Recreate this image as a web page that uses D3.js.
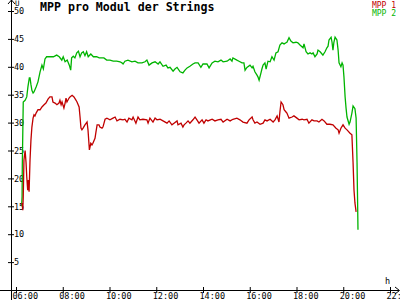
<!DOCTYPE html>
<html>
<head>
<meta charset="utf-8">
<script src="https://cdn.jsdelivr.net/npm/d3@7"></script>
<style>
  html, body { margin: 0; padding: 0; background: #fff; }
  svg { display: block; }
  text { font-family: "DejaVu Sans Mono", monospace; }
</style>
</head>
<body>
<div id="chart"></div>
<script>
// time in decimal hours, value in volts
const mpp1Time = [6.26,6.29,6.31,6.34,6.39,6.43,6.46,6.50,6.53,6.56,6.60,6.64,6.68,6.73,6.77,6.81,6.86,6.94,7.03,7.11,7.20,7.28,7.37,7.45,7.54,7.58,7.67,7.75,7.84,7.88,7.93,7.97,8.05,8.10,8.14,8.18,8.27,8.31,8.40,8.48,8.57,8.61,8.70,8.74,8.78,8.82,8.87,8.95,9.04,9.08,9.12,9.14,9.20,9.25,9.29,9.38,9.42,9.47,9.55,9.59,9.68,9.72,9.81,9.89,10.02,10.15,10.24,10.32,10.45,10.58,10.66,10.75,10.83,10.96,11.01,11.13,11.22,11.30,11.43,11.60,11.65,11.73,11.86,11.95,12.03,12.16,12.29,12.46,12.55,12.67,12.76,12.89,12.93,13.06,13.14,13.19,13.27,13.36,13.44,13.57,13.66,13.74,13.83,13.96,14.04,14.13,14.21,14.39,14.51,14.64,14.77,14.86,15.03,15.16,15.28,15.45,15.58,15.71,15.88,15.97,16.10,16.14,16.22,16.31,16.44,16.57,16.65,16.74,16.87,17.00,17.08,17.17,17.25,17.29,17.34,17.42,17.47,17.55,17.59,17.68,17.81,17.89,18.02,18.11,18.24,18.32,18.45,18.53,18.66,18.75,18.88,18.96,19.09,19.18,19.30,19.43,19.56,19.69,19.78,19.82,19.90,19.99,20.08,20.16,20.29,20.37,20.42,20.46,20.50,20.55];
const mpp1Value = [15.6,14.3,16.7,23.3,25.0,22.8,20.3,17.9,19.7,17.6,23.3,26.9,29.2,30.8,31.4,31.2,31.7,32.3,32.3,32.8,33.2,33.5,34.2,34.6,34.6,33.7,33.5,33.2,33.5,34.0,33.2,33.7,32.6,33.5,34.4,33.7,34.4,34.6,34.9,34.6,34.0,33.7,32.8,31.0,29.0,28.7,29.0,29.6,30.1,28.7,26.3,25.1,26.3,26.0,26.3,27.2,28.3,29.6,29.6,29.2,29.0,29.2,30.6,30.8,30.5,30.8,31.0,30.3,30.6,30.5,30.6,30.1,30.8,30.5,31.0,29.9,31.0,30.5,30.6,30.5,29.9,30.8,30.1,30.8,30.5,30.6,30.3,29.9,30.3,29.6,29.9,30.3,29.6,29.9,29.2,29.6,29.9,30.3,29.9,30.5,31.0,30.5,29.9,30.5,29.9,30.5,30.3,30.6,30.3,30.5,30.6,30.1,30.6,30.3,30.6,30.8,30.5,30.1,29.9,30.5,31.0,30.5,29.9,30.1,29.7,29.9,30.5,30.3,30.6,30.1,30.5,31.2,30.1,31.9,33.7,33.2,32.3,31.9,31.7,30.8,31.0,31.2,30.8,30.5,30.6,30.5,30.6,29.9,30.5,30.3,30.3,30.1,30.6,30.3,29.7,29.7,29.6,29.0,28.7,28.1,29.0,29.6,29.0,28.7,28.1,27.8,22.8,17.9,15.6,14.0];

const mpp2Time = [6.24,6.26,6.27,6.31,6.39,6.46,6.51,6.57,6.60,6.64,6.68,6.73,6.77,6.86,6.94,7.03,7.11,7.17,7.24,7.31,7.45,7.60,7.74,7.85,7.96,8.02,8.10,8.19,8.28,8.34,8.38,8.45,8.52,8.60,8.67,8.74,8.81,8.88,8.95,9.02,9.09,9.20,9.31,9.45,9.56,9.67,9.76,9.88,10.02,10.16,10.31,10.45,10.53,10.58,10.66,10.79,10.96,11.09,11.22,11.39,11.52,11.60,11.69,11.82,11.95,12.08,12.16,12.29,12.42,12.50,12.59,12.72,12.80,12.89,13.02,13.14,13.23,13.32,13.44,13.57,13.66,13.79,13.91,14.00,14.17,14.26,14.39,14.51,14.64,14.77,14.86,15.03,15.16,15.24,15.28,15.45,15.54,15.67,15.75,15.80,15.88,16.01,16.10,16.14,16.22,16.31,16.35,16.40,16.48,16.52,16.57,16.65,16.70,16.74,16.78,16.87,16.95,17.04,17.12,17.21,17.29,17.38,17.47,17.55,17.59,17.68,17.76,17.85,17.98,18.06,18.15,18.28,18.32,18.41,18.49,18.58,18.66,18.71,18.79,18.88,18.92,19.01,19.09,19.13,19.22,19.30,19.35,19.39,19.48,19.52,19.56,19.60,19.65,19.73,19.78,19.82,19.90,19.95,19.99,20.03,20.08,20.12,20.16,20.25,20.29,20.37,20.42,20.50,20.55,20.59,20.61,20.63];
const mpp2Value = [15.0,16.7,22.4,33.7,34.0,34.6,36.4,38.0,38.0,36.8,35.8,35.3,35.5,36.4,37.3,39.1,40.3,39.6,41.4,41.8,41.8,41.8,42.1,41.8,41.2,41.8,40.9,41.2,40.3,39.4,41.6,41.9,41.6,42.5,42.8,41.8,42.5,42.7,42.0,42.7,41.8,42.3,41.8,41.8,41.6,41.6,41.6,41.2,41.2,41.0,41.0,40.9,40.7,40.5,41.0,41.2,40.9,41.0,40.7,40.7,40.9,41.2,40.3,40.7,40.9,40.5,40.9,40.1,40.3,39.8,39.9,39.2,39.6,39.9,39.1,38.9,39.4,39.8,40.1,40.5,40.7,40.7,39.9,40.5,40.5,39.8,40.7,41.0,40.9,41.2,40.9,41.0,41.4,41.0,41.6,41.2,41.0,40.7,40.7,39.4,39.9,40.3,39.8,40.1,39.1,38.5,38.2,37.6,38.9,39.6,40.3,40.7,39.6,40.3,41.0,40.9,41.8,41.2,42.5,42.7,43.9,44.3,44.1,44.3,44.4,45.2,44.6,44.3,44.4,44.3,43.9,43.4,44.1,42.7,42.3,42.5,42.3,42.5,41.8,42.3,43.0,42.7,42.3,42.1,42.7,43.4,43.7,44.8,45.3,44.4,43.0,44.4,45.3,44.8,43.0,40.7,40.0,40.7,40.3,38.2,34.6,32.6,31.0,29.7,30.1,31.7,33.0,32.5,30.8,22.8,17.0,10.8,9.0];

const yTicks = [5, 10, 15, 20, 25, 30, 35, 40, 45, 50];
const xTicks = [6, 8, 10, 12, 14, 16, 18, 20, 22];
const seriesNames = ["MPP 1", "MPP 2"];
const seriesColors = ["#c00000", "#00b400"];

const W = 400, H = 300;

const svg = d3.select("#chart").append("svg")
    .attr("width", W)
    .attr("height", H);

const x = d3.scaleLinear().domain([6, 22]).range([16, 390]);
const y = d3.scaleLinear().domain([0, 50]).range([290, 11]);
const x0 = 11, y0 = 290;

// y axis
const yAxis = svg.append("g")
    .attr("transform", `translate(${x0},0)`)
    .call(d3.axisRight(y).tickValues(yTicks).tickSize(3).tickPadding(0));
yAxis.select(".domain").remove();
yAxis.selectAll(".tick line").attr("x1", -3).attr("stroke", "#000");
yAxis.selectAll(".tick text")
    .attr("font-family", "DejaVu Sans Mono")
    .attr("font-size", 8.5)
    .attr("fill", "#000");

// x axis
const xAxis = svg.append("g")
    .attr("transform", `translate(0,${y0})`)
    .call(d3.axisBottom(x).tickValues(xTicks)
        .tickFormat(d => String(d).padStart(2, "0") + ":00")
        .tickSize(3));
xAxis.select(".domain").remove();
xAxis.selectAll(".tick line").attr("y1", -3).attr("stroke", "#000");
xAxis.selectAll(".tick text")
    .attr("font-family", "DejaVu Sans Mono")
    .attr("font-size", 8.5)
    .attr("fill", "#000")
    .attr("text-anchor", "start")
    .attr("x", -4)
    .attr("y", 9)
    .attr("dy", null);

// axis lines with arrows
const axes = svg.append("g")
    .attr("stroke", "#000")
    .attr("fill", "none")
    .attr("shape-rendering", "crispEdges");
axes.append("line").attr("x1", x0 + 0.5).attr("x2", x0 + 0.5).attr("y1", 0).attr("y2", H);
axes.append("line").attr("x1", 0).attr("x2", 399).attr("y1", y0 + 0.5).attr("y2", y0 + 0.5);
svg.append("path")
    .attr("d", `M${x0 - 3},4L${x0 + 0.5},0L${x0 + 4},4`)
    .attr("stroke", "#000").attr("fill", "none");
svg.append("path")
    .attr("d", `M395,${y0 - 3}L399.5,${y0 + 0.5}L395,${y0 + 4}`)
    .attr("stroke", "#000").attr("fill", "none");

svg.append("text").attr("x", 15).attr("y", 5.5)
    .attr("font-size", 7.5).text("U");
svg.append("text").attr("x", 385).attr("y", 284)
    .attr("font-size", 8.5).text("h");

// lines
const line = d3.line()
    .x(d => x(d[0]))
    .y(d => y(d[1]));

const series = [
    d3.zip(mpp1Time, mpp1Value),
    d3.zip(mpp2Time, mpp2Value)
];

// draw MPP 2 first so red sits on top where they meet
[1, 0].forEach(i => {
    svg.append("path")
        .datum(series[i])
        .attr("d", line)
        .attr("fill", "none")
        .attr("stroke", seriesColors[i])
        .attr("stroke-width", 1.3);
});

// title
svg.append("text")
    .attr("x", 40)
    .attr("y", 11)
    .attr("font-size", 11.6)
    .attr("font-weight", "bold")
    .attr("fill", "#000")
    .text("MPP pro Modul der Strings");

// legend
seriesNames.forEach((name, i) => {
    svg.append("text")
        .attr("x", 396)
        .attr("y", 7.5 + i * 8.5)
        .attr("text-anchor", "end")
        .attr("font-size", 8)
        .attr("fill", seriesColors[i])
        .text(name);
});
</script>
</body>
</html>
